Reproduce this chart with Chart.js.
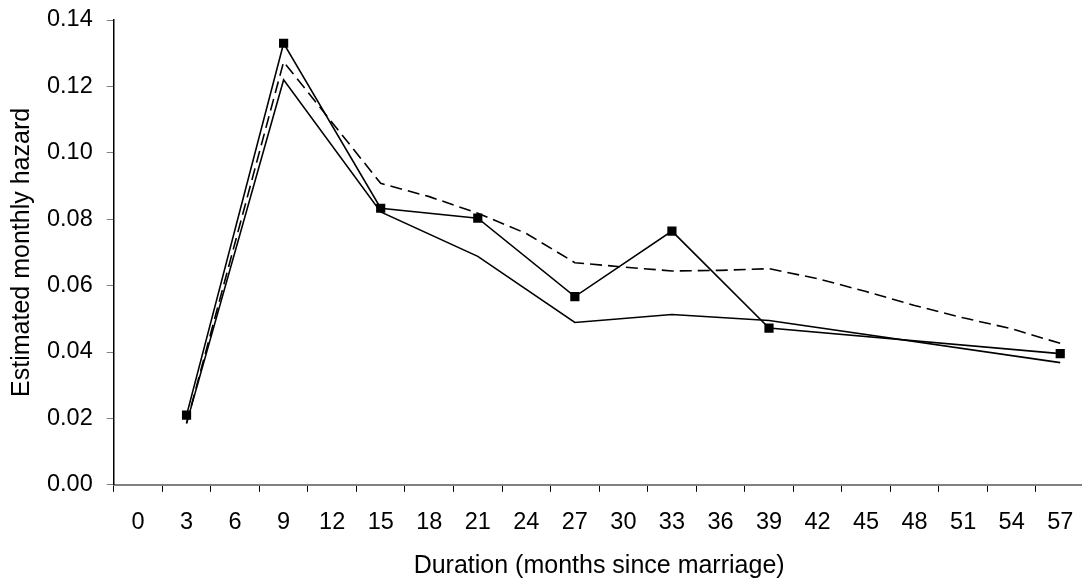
<!DOCTYPE html>
<html>
<head>
<meta charset="utf-8">
<script src="https://cdn.jsdelivr.net/npm/chart.js@4"></script>
<style>
  html, body { margin: 0; padding: 0; background: #fff; overflow: hidden; }
  #wrap { width: 1082px; height: 585px; overflow: hidden; }
</style>
</head>
<body>
<!-- o eixo x do original passa um pouco da borda direita, por isso o canvas e mais largo -->
<div id="wrap"><canvas id="grafico" width="1091" height="585"></canvas></div>
<script>
const meses = [0, 3, 6, 9, 12, 15, 18, 21, 24, 27, 30, 33, 36, 39, 42, 45, 48, 51, 54, 57];

// serie com marcadores (quadrados)
const observado = [null, 0.021, null, 0.133, null, 0.0833, null, 0.0803, null, 0.0567, null, 0.0764, null, 0.0472, null, null, null, null, null, 0.0395];
// linha continua inferior
const modelo1 = [null, 0.0185, null, 0.122, null, 0.0822, null, 0.0688, null, 0.0489, null, 0.0513, null, 0.0495, null, null, null, null, null, 0.0368];
// linha tracejada
const modelo2 = [null, 0.0185, null, 0.1274, null, 0.0908, 0.0868, 0.0818, 0.0757, 0.0669, 0.0656, 0.0644, 0.0646, 0.0651, 0.0621, 0.0582, 0.054, 0.0503, 0.047, 0.0426];

const fonte = 'Liberation Sans, Arial, sans-serif';

// tira o espaco extra que o Chart.js reserva para os rotulos das pontas
function semPadding(scale) {
  scale.paddingTop = 0;
  scale.paddingBottom = 0;
  scale.paddingLeft = 0;
  scale.paddingRight = 0;
}

new Chart(document.getElementById('grafico'), {
  type: 'line',
  data: {
    labels: meses,
    datasets: [
      {
        label: 'Observado',
        data: observado,
        borderColor: '#000',
        backgroundColor: '#000',
        borderWidth: 1.6,
        pointStyle: 'rect',
        pointRadius: 6.5,
        pointBorderWidth: 0,
        spanGaps: true,
        tension: 0
      },
      {
        label: 'Modelo 1',
        data: modelo1,
        borderColor: '#000',
        borderWidth: 1.6,
        pointRadius: 0,
        spanGaps: true,
        tension: 0
      },
      {
        label: 'Modelo 2',
        data: modelo2,
        borderColor: '#000',
        borderWidth: 1.6,
        borderDash: [12, 6],
        pointRadius: 0,
        spanGaps: true,
        tension: 0
      }
    ]
  },
  options: {
    responsive: false,
    animation: false,
    layout: { padding: { top: 20, right: 0, left: 7, bottom: 4 } },
    plugins: {
      legend: { display: false },
      tooltip: { enabled: false }
    },
    scales: {
      x: {
        offset: true,
        afterFit: semPadding,
        grid: {
          offset: true,
          drawOnChartArea: false,
          drawTicks: true,
          tickLength: 7,
          color: '#000'
        },
        border: { color: '#808080', width: 2 },
        ticks: {
          color: '#000',
          font: { family: fonte, size: 23.5 },
          maxRotation: 0,
          autoSkip: false,
          padding: 17
        },
        title: {
          display: true,
          text: 'Duration (months since marriage)',
          color: '#000',
          font: { family: fonte, size: 25 },
          padding: { top: -3, bottom: 0 }
        }
      },
      y: {
        min: 0,
        max: 0.14,
        afterFit: semPadding,
        grid: {
          drawOnChartArea: false,
          drawTicks: true,
          tickLength: 7,
          color: '#808080'
        },
        border: { color: '#000', width: 1.5 },
        ticks: {
          stepSize: 0.02,
          color: '#000',
          font: { family: fonte, size: 23.5 },
          padding: 14,
          callback: (v) => v.toFixed(2)
        },
        title: {
          display: true,
          text: 'Estimated monthly hazard',
          color: '#000',
          font: { family: fonte, size: 25 },
          padding: { top: 0, bottom: -4 }
        }
      }
    }
  }
});
</script>
</body>
</html>
